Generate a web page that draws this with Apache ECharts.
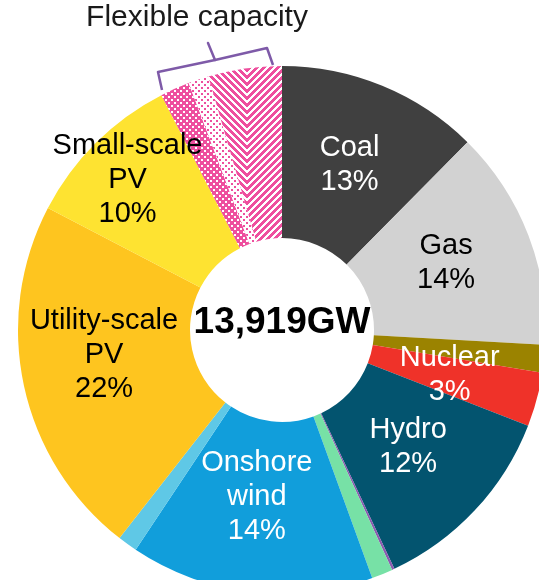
<!DOCTYPE html>
<html>
<head>
<meta charset="utf-8">
<script src="https://cdn.jsdelivr.net/npm/echarts@6/dist/echarts.min.js"></script>
<style>
  html, body { margin: 0; padding: 0; background: #fff; }
  #chart { width: 539px; height: 580px; }
</style>
</head>
<body>
<div id="chart"></div>
<script>
// capacity shares (% of total), clockwise from 12 o'clock
var sources = ['Coal', 'Gas', 'Oil', 'Nuclear', 'Hydro', 'Other renewables', 'Bioenergy',
  'Onshore wind', 'Offshore wind', 'Utility-scale PV', 'Small-scale PV',
  'Battery storage', 'Demand response', 'Other flexibility'];
var shares = [12.4, 13.5, 1.7, 3.3, 12.1, 0.15, 1.3, 14.9, 1.2, 22.1, 9.8, 1.8, 1.25, 4.5];
var sliceLabels = ['Coal\n13%', 'Gas\n14%', '', 'Nuclear\n3%', 'Hydro\n12%', '', '',
  'Onshore\nwind\n14%', '', 'Utility-scale\nPV\n22%', 'Small-scale\nPV\n10%', '', '', ''];
var totalLabel = '13,919GW';
var flexLabel = 'Flexible capacity';

var colors = ['#404040', '#d2d2d2', '#9b8300', '#ef3229', '#03546f', '#8c5bb0', '#77e1a6',
  '#119edb', '#5fc8e6', '#fec51f', '#fee331', 'dotsPink', 'dotsWhite', 'herring'];
var textColors = ['#fff', '#000', '#000', '#fff', '#fff', '#000', '#000',
  '#fff', '#000', '#000', '#000', '#000', '#000', '#000'];
// nudge of each label away from the ring middle [dx, dy]
var nudges = [[0, 0], [-2, -3], [0, 0], [-4, -2], [-4, -4], [0, 0], [0, 0],
  [-4, -10], [0, 0], [-4, -13], [-29, -24], [0, 0], [0, 0], [0, 0]];

var CX = 282, CY = 330, R0 = 92, R1 = 264;
var PINK = [238, 79, 158];

function tile(w, h, isPink) {
  var c = document.createElement('canvas');
  c.width = w; c.height = h;
  var ctx = c.getContext('2d');
  var img = ctx.createImageData(w, h);
  for (var y = 0; y < h; y++) {
    for (var x = 0; x < w; x++) {
      var i = (y * w + x) * 4;
      var p = isPink(x, y) ? PINK : [255, 255, 255];
      img.data[i] = p[0]; img.data[i + 1] = p[1]; img.data[i + 2] = p[2]; img.data[i + 3] = 255;
    }
  }
  ctx.putImageData(img, 0, 0);
  return c;
}

function dot(x, y) {
  return (x < 2 && y < 2) || (x >= 3 && x < 5 && y >= 3 && y < 5);
}

var patterns = {
  dotsPink: tile(6, 6, function (x, y) { return !dot(x, y); }),
  dotsWhite: tile(6, 6, function (x, y) { return dot(x, y); }),
  herring: tile(84, 7, function (x, y) {
    if (x >= 39 && x < 79) return (((x - y) % 7) + 7) % 7 < 4;
    return (x + y) % 7 < 4;
  })
};

var data = sources.map(function (name, i) {
  var col = patterns[colors[i]] ? { image: patterns[colors[i]], repeat: 'repeat' } : colors[i];
  return { name: name, value: shares[i], itemStyle: { color: col } };
});

// slice labels sit at the middle of the ring, at each slice's mid angle
var total = shares.reduce(function (a, b) { return a + b; }, 0);
var labelEls = [];
var cum = 0;
shares.forEach(function (v, i) {
  var mid = (cum + v / 2) / total * 2 * Math.PI;
  cum += v;
  if (!sliceLabels[i]) return;
  var r = (R0 + R1) / 2;
  labelEls.push({
    type: 'text',
    x: CX + r * Math.sin(mid) + nudges[i][0],
    y: CY - r * Math.cos(mid) + nudges[i][1],
    z: 10,
    style: {
      text: sliceLabels[i], align: 'center', verticalAlign: 'middle',
      font: '29px "Liberation Sans", Arial, sans-serif', lineHeight: 34,
      fill: textColors[i]
    }
  });
});

var chart = echarts.init(document.getElementById('chart'));
chart.setOption({
  animation: false,
  series: [{
    type: 'pie',
    center: [CX, CY],
    radius: [R0, R1],
    startAngle: 90,
    clockwise: true,
    silent: true,
    itemStyle: { borderWidth: 0 },
    label: { show: false },
    labelLine: { show: false },
    emphasis: { disabled: true },
    data: data
  }],
  graphic: labelEls.concat([
    {
      type: 'text', x: CX, y: 323, z: 10,
      style: {
        text: totalLabel, align: 'center', verticalAlign: 'middle',
        font: 'bold 37px "Liberation Sans", Arial, sans-serif', fill: '#000'
      }
    },
    {
      type: 'text', x: 197, y: 18,
      style: {
        text: flexLabel, align: 'center', verticalAlign: 'middle',
        font: '30px "Liberation Sans", Arial, sans-serif', fill: '#1a1a1a'
      }
    },
    {
      type: 'polyline',
      shape: { points: [[162, 90], [158, 72], [215, 60], [267, 48], [273, 65]] },
      style: { stroke: '#7e5aa8', lineWidth: 2.5, fill: null, lineJoin: 'round' }
    },
    {
      type: 'line',
      shape: { x1: 215, y1: 60, x2: 208, y2: 43 },
      style: { stroke: '#7e5aa8', lineWidth: 2.5, lineCap: 'round' }
    }
  ])
});
</script>
</body>
</html>
